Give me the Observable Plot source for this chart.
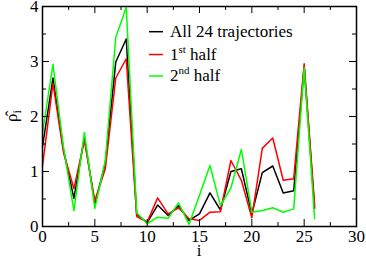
<!DOCTYPE html>
<html>
<head>
<meta charset="utf-8">
<script src="https://cdn.jsdelivr.net/npm/d3@7"></script>
<script src="https://cdn.jsdelivr.net/npm/@observablehq/plot@0.6"></script>
<style>
  html, body { margin: 0; padding: 0; background: white; }
  svg text { font-family: "Liberation Serif", "DejaVu Serif", serif; }
</style>
</head>
<body>
<div id="chart"></div>
<script>
const idx = [0,1,2,3,4,5,6,7,8,9,10,11,12,13,14,15,16,17,18,19,20,21,22,23,24,25,26];
const allTraj = [1.45,2.70,1.40,0.51,1.62,0.41,1.15,2.99,3.41,0.22,0.07,0.39,0.20,0.38,0.11,0.23,0.61,0.30,1.00,1.05,0.23,0.98,1.10,0.61,0.65,2.90,0.33];
const firstHalf = [1.10,2.60,1.35,0.69,1.56,0.47,1.05,2.70,3.05,0.18,0.08,0.52,0.23,0.34,0.14,0.11,0.26,0.27,1.20,0.84,0.16,1.42,1.61,0.84,0.87,2.96,0.38];
const secondHalf = [1.70,2.95,1.45,0.29,1.71,0.33,1.20,3.44,3.98,0.25,0.05,0.17,0.15,0.43,0.04,0.57,1.11,0.38,0.70,1.40,0.26,0.29,0.34,0.26,0.32,2.89,0.14];

const xMajor = [0,5,10,15,20,25,30];
const xMinor = [2.5,7.5,12.5,17.5,22.5,27.5];
const yMajor = [0,1,2,3,4];
const yMinor = [0.5,1.5,2.5,3.5];

const series = [
  {name: "All 24 trajectories", values: allTraj, color: "#000000"},
  {name: "1st half", values: firstHalf, color: "#ff0000"},
  {name: "2nd half", values: secondHalf, color: "#00ff00"}
];

const W = 366, H = 258;
const mL = 42, mR = 10, mT = 6, mB = 32;
const iw = W - mL - mR, ih = H - mT - mB;
const font = "Liberation Serif, DejaVu Serif, serif";
const maj = 7, mnr = 4;

const tickMarks = [];
for (const [data, len] of [[xMajor, maj], [xMinor, mnr]]) {
  tickMarks.push(Plot.tickX(data, {x: d => d, insetTop: ih - len, stroke: "black", strokeWidth: 1}));
  tickMarks.push(Plot.tickX(data, {x: d => d, insetBottom: ih - len, stroke: "black", strokeWidth: 1}));
}
for (const [data, len] of [[yMajor, maj], [yMinor, mnr]]) {
  tickMarks.push(Plot.tickY(data, {y: d => d, insetRight: iw - len, stroke: "black", strokeWidth: 1}));
  tickMarks.push(Plot.tickY(data, {y: d => d, insetLeft: iw - len, stroke: "black", strokeWidth: 1}));
}

const lineMarks = series.map(s =>
  Plot.line(idx.map((x, i) => ({x, y: s.values[i]})), {x: "x", y: "y", stroke: s.color, strokeWidth: 1.5})
);

const svg = Plot.plot({
  width: W, height: H,
  marginLeft: mL, marginRight: mR, marginTop: mT, marginBottom: mB,
  x: {domain: [0, 30]},
  y: {domain: [0, 4]},
  style: {fontFamily: font, fontSize: "17px", background: "white", color: "black"},
  marks: [
    ...lineMarks,
    ...tickMarks,
    Plot.frame({stroke: "black", strokeWidth: 1.5}),
    Plot.axisX({ticks: xMajor, tickSize: 0, tickPadding: 3, tickFormat: d => String(d), fontSize: 17, fontFamily: font, label: null, fill: "black"}),
    Plot.axisY({ticks: yMajor, tickSize: 0, tickPadding: 4, tickFormat: d => String(d), fontSize: 17, fontFamily: font, label: null, fill: "black"})
  ]
});

const s = d3.select(svg);
// x-axis label
s.append("text")
  .attr("x", mL + iw / 2).attr("y", 256)
  .attr("text-anchor", "middle")
  .style("font-family", font).style("font-size", "17px")
  .attr("fill", "black")
  .text("i");

// y-axis label
const yl = s.append("text")
  .attr("transform", "translate(17,116) rotate(-90)")
  .attr("text-anchor", "middle")
  .style("font-family", font).style("font-size", "17px")
  .attr("fill", "black");
yl.append("tspan").text("\u03C1\u0302");
yl.append("tspan").style("font-size", "12px").attr("dy", 4).text("i");

// legend
const lg = s.append("g")
  .style("font-family", font).style("font-size", "17px")
  .attr("fill", "black").attr("text-anchor", "start");
const baselines = [36.7, 59.5, 81];
const labels = [["All 24 trajectories", null, null], ["1", "st", " half"], ["2", "nd", " half"]];
series.forEach((ser, k) => {
  const b = baselines[k];
  lg.append("line").attr("x1", 149).attr("x2", 163).attr("y1", b - 5).attr("y2", b - 5)
    .attr("stroke", ser.color).attr("stroke-width", 1.5);
  const t = lg.append("text").attr("x", 170).attr("y", b).attr("text-anchor", "start");
  const [a, sup, rest] = labels[k];
  t.append("tspan").text(a);
  if (sup) {
    t.append("tspan").style("font-size", "11px").attr("dy", -7).text(sup);
    t.append("tspan").attr("dy", 7).text(rest);
  }
});

document.getElementById("chart").appendChild(svg);
</script>
</body>
</html>
